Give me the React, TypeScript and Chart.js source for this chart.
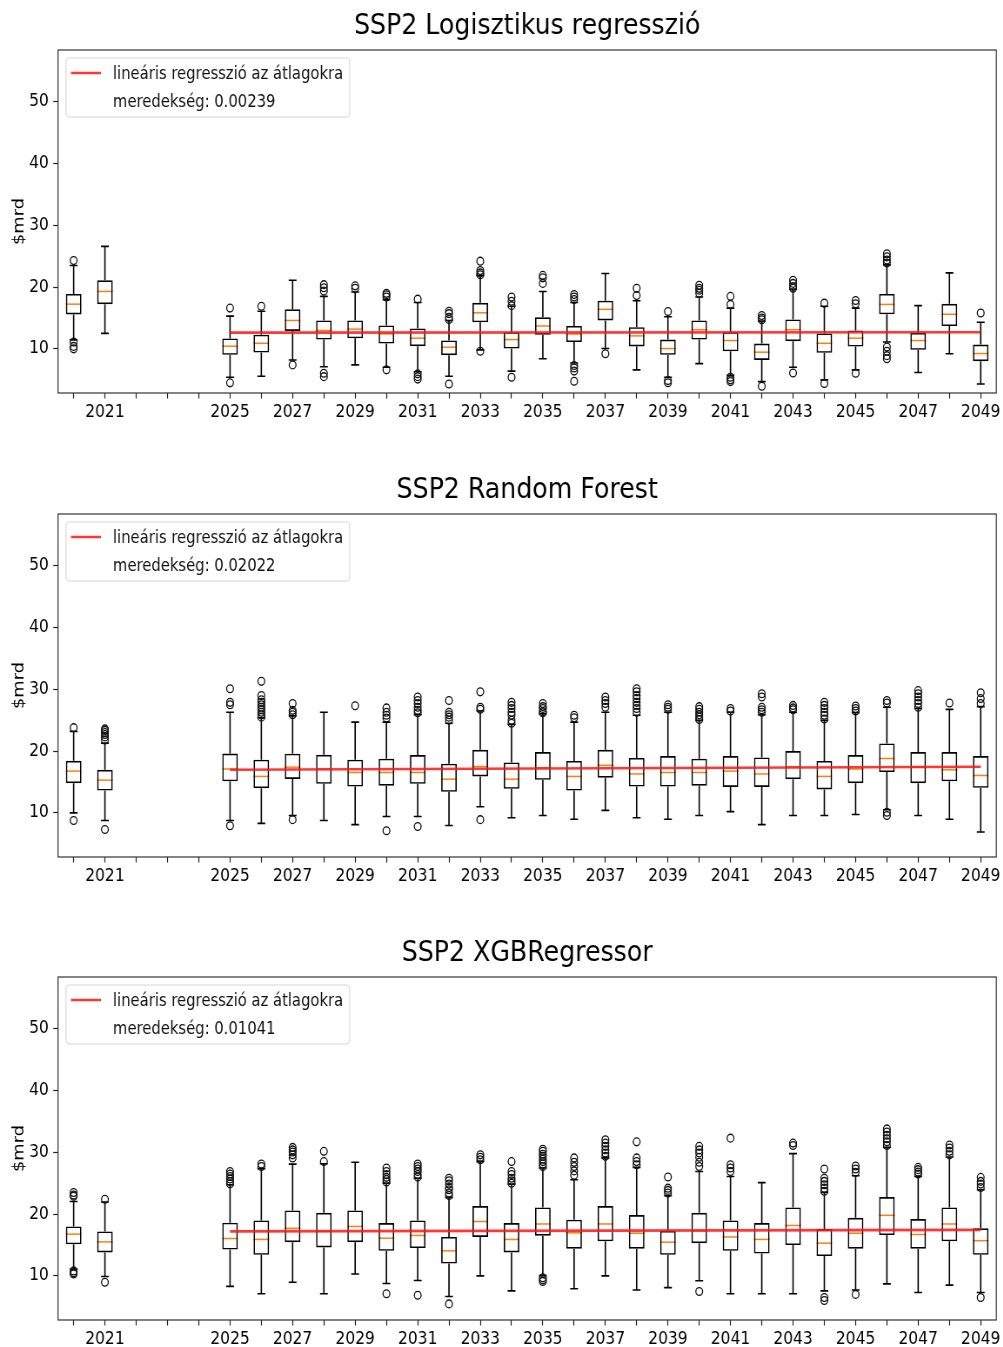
import React, { useEffect, useRef } from "react";
import { Chart, registerables } from "chart.js";

Chart.register(...registerables);

// ---------------- data ----------------
const BOX_YEARS = [2020, 2021, 2025, 2026, 2027, 2028, 2029, 2030, 2031, 2032, 2033, 2034, 2035, 2036, 2037, 2038, 2039, 2040, 2041, 2042, 2043, 2044, 2045, 2046, 2047, 2048, 2049];
const TICK_YEARS = [2020, 2021, 2022, 2023, 2024, 2025, 2026, 2027, 2028, 2029, 2030, 2031, 2032, 2033, 2034, 2035, 2036, 2037, 2038, 2039, 2040, 2041, 2042, 2043, 2044, 2045, 2046, 2047, 2048, 2049];
const LABEL_YEARS = [2021, 2025, 2027, 2029, 2031, 2033, 2035, 2037, 2039, 2041, 2043, 2045, 2047, 2049];
const Y_TICKS = [10, 20, 30, 40, 50];
const TREND_YEARS = [2025, 2049];

// SSP2 Logisztikus regresszió
const LR_LOW = [11.46, 12.5, 5.4, 5.57, 8.2, 7.1, 7.4, 7.03, 6.3, 5.57, 9.84, 6.4, 8.4, 7.7, 10.05, 6.6, 5.4, 7.6, 5.7, 4.7, 7.03, 4.97, 6.6, 11.1, 6.16, 9.2, 4.3];
const LR_Q1 = [15.57, 17.24, 9.03, 9.4, 12.9, 11.5, 11.7, 10.86, 10.43, 8.97, 14.3, 10.05, 12.3, 11.1, 14.6, 10.4, 9.03, 11.5, 9.6, 8.2, 11.24, 9.35, 10.38, 15.6, 9.84, 13.7, 8.0];
const LR_MED = [17.24, 19.3, 10.43, 10.9, 14.6, 12.97, 13.2, 12.43, 11.73, 10.27, 15.84, 11.5, 13.7, 12.4, 16.4, 12.1, 10.05, 13.1, 11.35, 9.46, 13.1, 10.9, 11.73, 17.2, 11.35, 15.6, 9.24];
const LR_Q3 = [18.9, 21.1, 11.68, 12.3, 16.4, 14.6, 14.6, 13.8, 13.3, 11.35, 17.46, 12.7, 15.1, 13.7, 17.8, 13.5, 11.5, 14.6, 12.7, 10.86, 14.76, 12.5, 12.97, 18.9, 12.6, 17.3, 10.7];
const LR_HIGH = [23.5, 26.6, 15.3, 16.1, 21.1, 18.5, 19.2, 17.95, 17.5, 14.6, 21.9, 16.9, 19.3, 17.5, 22.2, 17.8, 15.2, 18.4, 16.6, 14.5, 19.7, 16.9, 16.6, 23.6, 17.0, 22.3, 14.3];
const LR_OUT = [
  [24.3, 11.1, 10.4, 10.0], [], [16.6, 4.49], [16.9], [7.4], [20.4, 19.9, 19.35, 6.05, 5.5], [20.2, 19.8],
  [19.0, 18.76, 18.4, 6.6], [18.05, 5.95, 5.5, 5.1], [16.1, 15.7, 15.1, 14.75, 4.3], [24.2, 22.7, 22.3, 22.0, 9.6],
  [18.4, 17.7, 17.0, 5.4], [21.9, 21.5, 20.6], [18.8, 18.4, 18.0, 7.3, 6.9, 6.4, 4.76], [9.2], [19.8, 18.65],
  [16.05, 4.86, 4.5], [20.3, 19.8, 19.5, 19.0], [18.5, 17.2, 5.4, 5.0, 4.7], [15.4, 15.0, 14.7, 3.95],
  [21.1, 20.6, 20.1, 19.8, 6.1], [17.4, 4.4], [17.84, 17.3, 6.05], [25.4, 24.9, 24.4, 23.9, 10.3, 9.6, 8.9, 8.4],
  [], [], [15.8],
];
const LR_TREND = [12.62, 12.68];

// SSP2 Random Forest
const RF_LOW = [10.0, 8.76, 8.76, 8.3, 9.57, 8.76, 8.1, 9.4, 9.4, 7.95, 11.0, 9.2, 9.57, 8.97, 10.4, 9.2, 8.97, 9.57, 10.2, 8.1, 9.57, 9.57, 9.73, 10.5, 9.57, 8.97, 6.9];
const RF_Q1 = [14.8, 13.6, 15.1, 14.0, 15.5, 14.7, 14.27, 14.4, 14.7, 13.4, 15.9, 13.9, 15.35, 13.6, 15.7, 14.27, 14.27, 14.4, 14.2, 14.2, 15.46, 13.8, 14.8, 16.6, 14.8, 15.1, 14.05];
const RF_MED = [16.76, 15.3, 17.1, 15.9, 17.4, 17.1, 16.54, 16.54, 16.54, 15.46, 17.5, 15.46, 17.3, 15.9, 17.7, 16.3, 16.54, 16.54, 16.76, 16.3, 17.46, 15.9, 17.1, 18.8, 17.4, 16.97, 16.05];
const RF_Q3 = [18.43, 16.97, 19.6, 18.6, 19.57, 19.4, 18.6, 18.76, 19.35, 17.95, 20.2, 18.16, 19.84, 18.4, 20.2, 18.9, 19.2, 18.76, 19.2, 18.97, 20.0, 18.4, 19.35, 21.24, 19.84, 19.84, 19.2];
const RF_HIGH = [23.2, 21.3, 26.3, 25.4, 25.7, 26.3, 24.7, 24.7, 25.9, 24.5, 26.5, 24.3, 26.05, 24.7, 26.3, 25.8, 26.3, 24.97, 26.3, 25.9, 26.3, 24.97, 26.2, 27.1, 26.9, 26.76, 27.2];
const RF_OUT = [
  [23.8, 8.76], [23.6, 23.35, 23.0, 22.7, 22.3, 21.8, 7.3], [30.1, 27.9, 27.5, 7.9],
  [31.3, 29.0, 28.3, 27.9, 27.5, 27.1, 26.7, 26.3, 25.9, 25.5], [27.7, 26.6, 26.3, 25.9, 8.9], [], [27.35],
  [27.0, 26.3, 25.8, 25.35, 7.1], [28.76, 28.2, 27.7, 27.1, 26.6, 26.2, 7.8], [28.2, 26.3, 25.9, 25.5, 25.0],
  [29.6, 27.1, 26.76, 8.9], [27.9, 27.4, 26.9, 26.3, 25.8, 25.0, 24.5], [27.7, 27.2, 26.9, 26.4, 26.2],
  [25.8, 25.4], [28.76, 28.2, 27.7, 27.1], [30.1, 29.6, 29.0, 28.5, 27.9, 27.4, 26.9, 26.3], [27.5, 27.1, 26.76],
  [27.2, 26.76, 26.3, 25.9, 25.5, 25.1], [26.9, 26.5], [29.3, 28.76, 27.1, 26.7, 26.3], [27.4, 27.0, 26.7],
  [27.9, 27.4, 26.9, 26.3, 25.8, 25.2], [27.3, 26.9, 26.5], [28.2, 27.8, 10.1, 9.57],
  [29.8, 29.3, 28.76, 28.2, 27.7, 27.1], [27.8], [29.46, 28.5, 27.7],
];
const RF_TREND = [16.98, 17.47];

// SSP2 XGBRegressor
const XG_LOW = [11.1, 9.9, 8.3, 7.1, 8.97, 7.1, 10.3, 8.76, 9.24, 6.65, 10.0, 7.57, 10.05, 7.9, 10.0, 7.7, 8.1, 9.2, 7.1, 7.1, 7.1, 7.57, 7.7, 8.7, 7.3, 8.5, 7.3];
const XG_Q1 = [15.1, 13.8, 14.27, 13.4, 15.46, 14.6, 15.46, 14.05, 14.5, 12.0, 16.3, 13.8, 16.5, 14.4, 15.6, 14.4, 13.4, 15.3, 14.05, 13.6, 15.0, 13.2, 14.4, 16.6, 14.4, 15.6, 13.4];
const XG_MED = [16.76, 15.5, 16.05, 15.9, 17.7, 17.2, 18.0, 16.1, 16.54, 14.05, 18.8, 15.9, 18.4, 16.97, 18.4, 16.9, 15.46, 17.3, 16.3, 15.9, 18.16, 15.3, 16.9, 19.8, 16.7, 18.4, 15.7];
const XG_Q3 = [18.0, 17.2, 18.6, 18.97, 20.6, 20.2, 20.6, 18.54, 18.97, 16.3, 21.3, 18.54, 21.08, 19.1, 21.3, 19.84, 17.3, 20.2, 18.97, 18.54, 21.08, 17.57, 19.4, 22.76, 19.2, 21.08, 17.7];
const XG_HIGH = [22.05, 21.95, 24.76, 27.35, 28.1, 28.16, 28.4, 25.0, 25.8, 22.7, 28.5, 24.86, 27.46, 25.57, 29.1, 27.57, 23.0, 26.9, 26.1, 25.1, 29.8, 23.5, 26.2, 30.8, 26.1, 29.24, 23.95];
const XG_OUT = [
  [23.5, 23.1, 22.9, 10.8, 10.5, 10.3], [22.4, 8.97], [26.9, 26.5, 26.1, 25.7, 25.3, 24.9], [28.1, 27.7],
  [30.8, 30.4, 30.05, 29.6, 29.1], [30.16, 28.5], [], [27.46, 26.9, 26.4, 25.95, 25.6, 25.2, 7.1],
  [28.1, 27.7, 27.3, 26.9, 26.4, 26.0, 6.86], [25.8, 25.4, 24.86, 24.3, 23.95, 23.4, 23.0, 5.46], [29.6, 29.2, 28.8],
  [28.5, 26.9, 26.4, 25.8, 25.4, 25.0], [30.5, 30.16, 29.7, 29.35, 28.9, 28.5, 28.1, 27.7, 9.7, 9.35, 9.1],
  [29.1, 28.4, 27.7, 27.0, 26.3], [32.05, 31.5, 30.97, 30.4, 29.9, 29.35], [31.7, 29.1, 28.5, 28.0],
  [26.0, 24.2, 23.84, 23.4], [30.97, 30.4, 29.9, 29.2, 28.4, 27.7, 7.46], [32.3, 28.0, 27.46, 26.9], [],
  [31.5, 31.1], [27.3, 25.8, 25.3, 24.76, 24.2, 23.7, 6.5, 6.0], [27.8, 27.3, 26.76, 7.0],
  [33.8, 33.3, 32.76, 32.2, 31.7, 31.1], [27.57, 27.2, 26.8, 26.5], [31.2, 30.7, 30.16, 29.6],
  [25.95, 25.3, 24.86, 24.3, 6.5],
];
const XG_TREND = [17.2, 17.45];

const TITLES = ["SSP2 Logisztikus regresszió", "SSP2 Random Forest", "SSP2 XGBRegressor"];
const SLOPES = ["0.00239", "0.02022", "0.01041"];
const LEGEND_LABEL = "lineáris regresszió az átlagokra";
const Y_LABEL = "$mrd";

const PANELS = [
  { title: TITLES[0], slope: SLOPES[0], low: LR_LOW, q1: LR_Q1, med: LR_MED, q3: LR_Q3, high: LR_HIGH, out: LR_OUT, trend: LR_TREND },
  { title: TITLES[1], slope: SLOPES[1], low: RF_LOW, q1: RF_Q1, med: RF_MED, q3: RF_Q3, high: RF_HIGH, out: RF_OUT, trend: RF_TREND },
  { title: TITLES[2], slope: SLOPES[2], low: XG_LOW, q1: XG_Q1, med: XG_MED, q3: XG_Q3, high: XG_HIGH, out: XG_OUT, trend: XG_TREND },
];

// ---------------- layout / style ----------------
const FONT = '"DejaVu Sans", "Liberation Sans", sans-serif';
const SX = 0.87; // horizontal squash of the whole figure
const W = Math.round(1003 / SX);
const H = 464;
const PANEL_TOPS = [0, 464, 927];
const AREA_LEFT = 58 / SX;
const AREA_RIGHT = 997 / SX;
const AREA_BOTTOM = 393;
const FS = 17.8;
const LFS = 17.0;
const RED = "rgba(255,20,20,0.85)";

type Panel = typeof PANELS[number];

function makeBoxPlugin(p: Panel) {
  return {
    id: "boxWhisk",
    beforeDatasetsDraw(chart: any) {
      const { ctx, scales } = chart;
      const x = scales.x, y = scales.y;
      ctx.save();
      BOX_YEARS.forEach((yr, i) => {
        const cx = x.getPixelForValue(yr);
        const cl = x.getPixelForValue(yr - 0.125);
        const cr = x.getPixelForValue(yr + 0.125);
        const yl = y.getPixelForValue(p.low[i]);
        const yh = y.getPixelForValue(p.high[i]);
        ctx.strokeStyle = "#000";
        ctx.lineWidth = 1.6;
        ctx.beginPath();
        ctx.moveTo(cx, yl); ctx.lineTo(cx, y.getPixelForValue(p.q1[i]));
        ctx.moveTo(cx, y.getPixelForValue(p.q3[i])); ctx.lineTo(cx, yh);
        ctx.moveTo(cl, yl); ctx.lineTo(cr, yl);
        ctx.moveTo(cl, yh); ctx.lineTo(cr, yh);
        ctx.stroke();
        const ml = x.getPixelForValue(yr - 0.25);
        const mr = x.getPixelForValue(yr + 0.25);
        const ym = y.getPixelForValue(p.med[i]);
        ctx.strokeStyle = "#ff7f0e";
        ctx.lineWidth = 1.5;
        ctx.beginPath();
        ctx.moveTo(ml, ym); ctx.lineTo(mr, ym);
        ctx.stroke();
      });
      ctx.restore();
    },
  };
}

function makeFramePlugin(p: Panel) {
  return {
    id: "frameLegend",
    afterDraw(chart: any) {
      const { ctx, chartArea: a } = chart;
      ctx.save();
      ctx.strokeStyle = "#333";
      ctx.lineWidth = 1.2;
      ctx.strokeRect(a.left, a.top, a.right - a.left, a.bottom - a.top);
      // legend
      ctx.font = `${LFS}px ${FONT}`;
      const tw = Math.max(ctx.measureText(LEGEND_LABEL).width, ctx.measureText("meredekség: " + p.slope).width);
      const bl = a.left + 9.2;
      const bt = a.top + 8;
      const tx = bl + 54;
      const bw = tx + tw + 7.5 - bl;
      const bh = 59;
      ctx.fillStyle = "rgba(255,255,255,0.85)";
      ctx.strokeStyle = "#d5d5d5";
      ctx.lineWidth = 1.1;
      ctx.beginPath();
      (ctx as any).roundRect(bl, bt, bw, bh, 4);
      ctx.fill();
      ctx.stroke();
      ctx.strokeStyle = RED;
      ctx.lineWidth = 2.6;
      ctx.beginPath();
      ctx.moveTo(bl + 5.7, bt + 15);
      ctx.lineTo(bl + 40.2, bt + 15);
      ctx.stroke();
      ctx.fillStyle = "#111";
      ctx.textBaseline = "middle";
      ctx.textAlign = "left";
      ctx.fillText(LEGEND_LABEL, tx, bt + 16.5);
      ctx.fillText("meredekség: " + p.slope, tx, bt + 44.5);
      ctx.restore();
    },
  };
}

function PanelChart({ p, top }: { p: Panel; top: number }) {
  const ref = useRef<HTMLCanvasElement | null>(null);
  useEffect(() => {
    if (!ref.current) return;
    const boxes = BOX_YEARS.map((x, i) => ({ x, y: [p.q1[i], p.q3[i]] }));
    const outliers = BOX_YEARS.flatMap((x, i) => p.out[i].map((v) => ({ x, y: v })));
    const trend = TREND_YEARS.map((x, i) => ({ x, y: p.trend[i] }));
    const chart = new Chart(ref.current, {
      type: "bar",
      data: {
        datasets: [
          {
            type: "line",
            data: trend,
            borderColor: RED,
            borderWidth: 2.6,
            pointRadius: 0,
            fill: false,
            order: 0,
          } as any,
          {
            type: "scatter",
            data: outliers,
            pointStyle: "circle",
            pointRadius: 3.9,
            pointBorderColor: "#111",
            pointBorderWidth: 1.3,
            pointBackgroundColor: "rgba(0,0,0,0)",
            order: 1,
          } as any,
          {
            type: "bar",
            data: boxes,
            backgroundColor: "rgba(0,0,0,0)",
            borderColor: "#000",
            borderWidth: 1.6,
            borderSkipped: false,
            barPercentage: 0.5,
            categoryPercentage: 1,
            order: 2,
          } as any,
        ],
      },
      options: {
        responsive: false,
        animation: false,
        events: [],
        devicePixelRatio: 1,
        layout: { padding: { left: 0, right: W - AREA_RIGHT, top: 0, bottom: 0 } },
        plugins: {
          legend: { display: false },
          tooltip: { enabled: false },
          title: {
            display: true,
            text: p.title,
            color: "#000",
            fullSize: false,
            font: { family: FONT, size: 29, weight: "normal" },
            padding: { top: 9.5, bottom: 5.7 },
          },
        },
        scales: {
          x: {
            type: "linear",
            min: 2019.5,
            max: 2049.5,
            offset: false,
            afterBuildTicks: (s: any) => {
              s.ticks = TICK_YEARS.map((v) => ({ value: v }));
            },
            afterFit: (s: any) => {
              s.height = H - AREA_BOTTOM;
            },
            ticks: {
              autoSkip: false,
              maxRotation: 0,
              minRotation: 0,
              padding: 3,
              color: "#000",
              font: { family: FONT, size: FS },
              callback: (v: any) => (LABEL_YEARS.includes(Number(v)) ? String(v) : ""),
            },
            grid: { display: true, drawOnChartArea: false, drawTicks: true, tickLength: 5.5, tickColor: "#222", tickWidth: 1.2, offset: false },
            border: { display: false },
          },
          y: {
            type: "linear",
            min: 2.85,
            max: 58.4,
            afterBuildTicks: (s: any) => {
              s.ticks = Y_TICKS.map((v) => ({ value: v }));
            },
            afterFit: (s: any) => {
              s.width = AREA_LEFT;
            },
            ticks: { padding: 5, color: "#000", font: { family: FONT, size: FS } },
            grid: { display: true, drawOnChartArea: false, drawTicks: true, tickLength: 5.5, tickColor: "#222", tickWidth: 1.2 },
            border: { display: false },
            title: {
              display: true,
              text: Y_LABEL,
              color: "#000",
              font: { family: FONT, size: FS },
              padding: { top: 11.5, bottom: 0 },
            },
          },
        },
      } as any,
      plugins: [makeBoxPlugin(p), makeFramePlugin(p)],
    });
    return () => chart.destroy();
  }, [p]);
  return (
    <div style={{ position: "absolute", left: 0, top, width: 1003, height: H, overflow: "hidden" }}>
      <canvas
        ref={ref}
        width={W}
        height={H}
        style={{ display: "block", width: W, height: H, transform: `scaleX(${SX})`, transformOrigin: "0 0" }}
      />
    </div>
  );
}

export default function App() {
  return (
    <div style={{ position: "absolute", left: 0, top: 0, width: 1003, height: 1347, overflow: "hidden", background: "#fff" }}>
      {PANELS.map((p, i) => (
        <PanelChart key={i} p={p} top={PANEL_TOPS[i]} />
      ))}
    </div>
  );
}
